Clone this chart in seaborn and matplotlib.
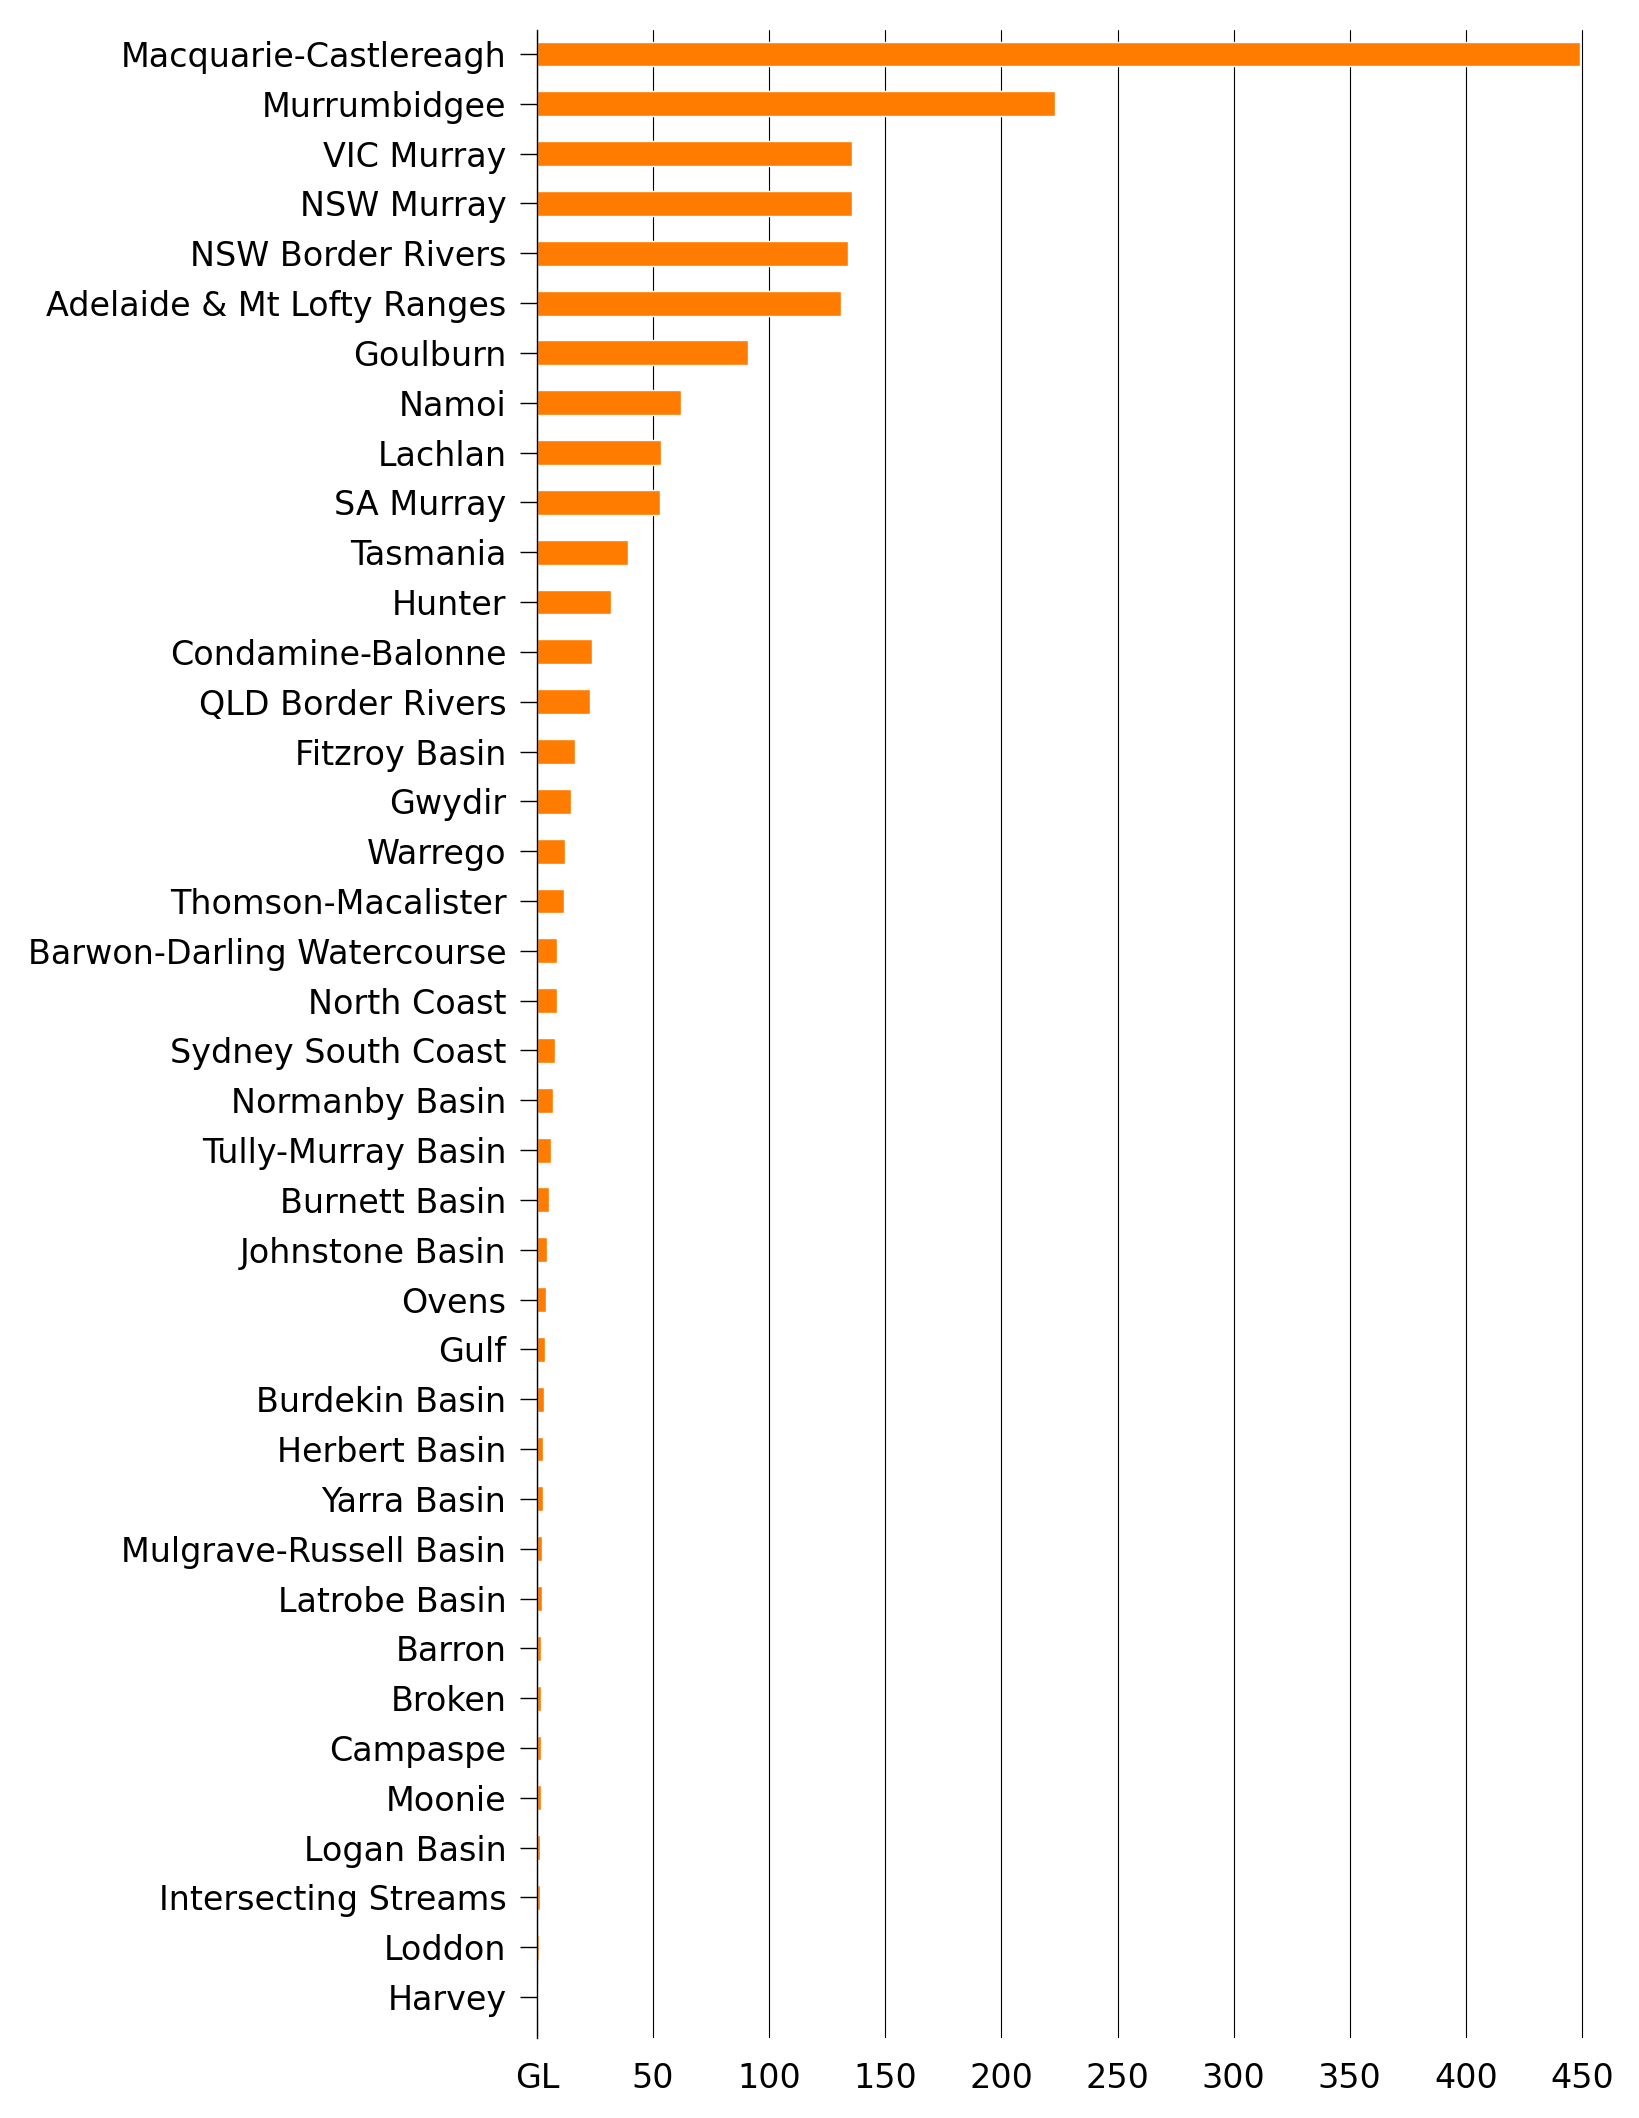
import numpy as np
import pandas as pd
import matplotlib as mpl
import matplotlib.pyplot as plt
import seaborn as sns

regions = [
    "Macquarie-Castlereagh", "Murrumbidgee", "VIC Murray", "NSW Murray",
    "NSW Border Rivers", "Adelaide & Mt Lofty Ranges", "Goulburn", "Namoi",
    "Lachlan", "SA Murray", "Tasmania", "Hunter", "Condamine-Balonne",
    "QLD Border Rivers", "Fitzroy Basin", "Gwydir", "Warrego",
    "Thomson-Macalister", "Barwon-Darling Watercourse", "North Coast",
    "Sydney South Coast", "Normanby Basin", "Tully-Murray Basin",
    "Burnett Basin", "Johnstone Basin", "Ovens", "Gulf", "Burdekin Basin",
    "Herbert Basin", "Yarra Basin", "Mulgrave-Russell Basin",
    "Latrobe Basin", "Barron", "Broken", "Campaspe", "Moonie",
    "Logan Basin", "Intersecting Streams", "Loddon", "Harvey",
]
volume_gl = [
    449, 223, 135.5, 135.5, 134, 131, 91, 62, 53.6, 53, 39.2, 31.7, 23.8,
    23, 16.2, 14.5, 11.9, 11.5, 8.5, 8.5, 7.6, 6.7, 5.9, 5.0, 4.2, 3.7,
    3.3, 2.9, 2.4, 2.4, 2.0, 2.0, 1.6, 1.6, 1.6, 1.6, 1.1, 1.1, 0.7, 0.5,
]
xticks = [0, 50, 100, 150, 200, 250, 300, 350, 400, 450]
xticklabels = ["GL", "50", "100", "150", "200", "250", "300", "350", "400", "450"]

df = pd.DataFrame({"region": regions, "gl": volume_gl})

sns.set_theme(style="white")
plt.rcParams["font.family"] = ["DejaVu Sans"]

# axes placed so that 0 sits at x=537px and 450 at x=1582px
x0, px_per_gl = 537, (1582 - 537) / 450
xmax = 452
fig = plt.figure(figsize=(16.4, 21.18), dpi=100)
ax = fig.add_axes([x0 / 1640, 0.0378, xmax * px_per_gl / 1640, 0.9858 - 0.0378])

sns.barplot(data=df, x="gl", y="region", orient="h", color="#ff7c00",
            saturation=1, width=0.5, ax=ax)

ax.set_xlim(0, xmax)
ax.set_ylim(len(regions) - 1 + 0.82, -0.48)
ax.set_xticks(xticks)
ax.set_xticklabels(xticklabels)
ax.xaxis.grid(True, color="black", linewidth=0.8)
ax.set_axisbelow(True)
ax.set_xlabel("")
ax.set_ylabel("")
for side in ["top", "right", "bottom"]:
    ax.spines[side].set_visible(False)
ax.spines["left"].set_color("black")
ax.spines["left"].set_linewidth(1.0)
ax.spines["left"].set_zorder(3)
ax.tick_params(axis="y", left=True, length=12, width=1.0, color="black",
               pad=10, labelsize=24, labelcolor="black")
ax.tick_params(axis="x", bottom=False, pad=11, labelsize=24, labelcolor="black")

fig.savefig("out.png", dpi=100, facecolor="white")
